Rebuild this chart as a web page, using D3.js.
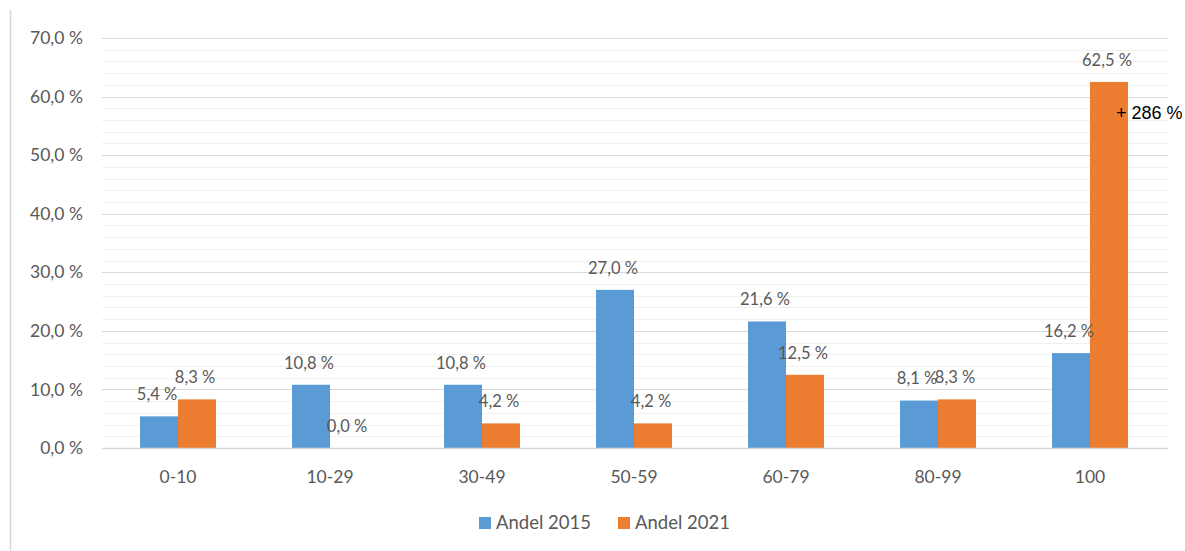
<!DOCTYPE html>
<html>
<head>
<meta charset="utf-8">
<script src="https://cdn.jsdelivr.net/npm/d3@7"></script>
<style>
  body { margin: 0; background: #fff; }
  svg { display: block; font-family: Lato, "Open Sans", sans-serif; }
</style>
</head>
<body>
<svg id="chart" width="1185" height="551"></svg>
<script>
var width = 1185, height = 551;

var categories = ['0-10', '10-29', '30-49', '50-59', '60-79', '80-99', '100'];
var series = ['Andel 2015', 'Andel 2021'];
var andel2015 = [5.4, 10.8, 10.8, 27.0, 21.6, 8.1, 16.2];
var andel2021 = [8.3, 0.0, 4.2, 4.2, 12.5, 8.3, 62.5];
var yTicks = [0, 10, 20, 30, 40, 50, 60, 70];
var annotation = '+ 286 %';

var colors = ['#5b9bd5', '#ed7d31'];
var textColor = '#595959';

var fmt = function(v) { return v.toFixed(1).replace('.', ',') + ' %'; };

var svg = d3.select('#chart');

// chart border on the left
svg.append('line')
  .attr('x1', 10.5).attr('x2', 10.5)
  .attr('y1', 10).attr('y2', height)
  .attr('stroke', '#d9d9d9').attr('stroke-width', 1.5);

var x = d3.scaleBand()
  .domain(categories)
  .range([102, 1166])
  .paddingInner(0.5)
  .paddingOuter(0.25);

var xs = d3.scaleBand()
  .domain(series)
  .range([0, x.bandwidth()]);

var y = d3.scaleLinear()
  .domain([0, 70])
  .range([448, 38]);

// minor gridlines every 2 %
svg.append('g')
  .selectAll('line')
  .data(d3.range(2, 70, 2).filter(function(d) { return d % 10 !== 0; }))
  .enter().append('line')
  .attr('x1', 102).attr('x2', 1168)
  .attr('y1', function(d) { return Math.round(y(d)) + 0.5; })
  .attr('y2', function(d) { return Math.round(y(d)) + 0.5; })
  .attr('stroke', '#f0f0f0');

// major gridlines
svg.append('g')
  .selectAll('line')
  .data(yTicks.slice(1))
  .enter().append('line')
  .attr('x1', 102).attr('x2', 1168)
  .attr('y1', function(d) { return Math.round(y(d)) + 0.5; })
  .attr('y2', function(d) { return Math.round(y(d)) + 0.5; })
  .attr('stroke', '#d9d9d9');

// y axis labels
svg.append('g')
  .selectAll('text')
  .data(yTicks)
  .enter().append('text')
  .attr('x', 83)
  .attr('y', function(d) { return y(d); })
  .attr('dy', '0.35em')
  .attr('text-anchor', 'end')
  .attr('font-size', 17.5)
  .attr('fill', textColor)
  .text(fmt);

var rows = categories.map(function(c, i) {
  return {cat: c, values: [andel2015[i], andel2021[i]]};
});

var groups = svg.append('g')
  .selectAll('g')
  .data(rows)
  .enter().append('g')
  .attr('transform', function(d) { return 'translate(' + x(d.cat) + ',0)'; });

groups.selectAll('rect')
  .data(function(d) { return d.values.map(function(v, j) { return {v: v, s: series[j], j: j}; }); })
  .enter().append('rect')
  .attr('x', function(d) { return xs(d.s); })
  .attr('width', xs.bandwidth())
  .attr('y', function(d) { return y(d.v); })
  .attr('height', function(d) { return y(0) - y(d.v); })
  .attr('fill', function(d) { return colors[d.j]; });

// baseline
svg.append('line')
  .attr('x1', 102).attr('x2', 1168)
  .attr('y1', 448.5).attr('y2', 448.5)
  .attr('stroke', '#d9d9d9').attr('stroke-width', 1.5);

// data labels
groups.selectAll('text.lbl')
  .data(function(d) { return d.values.map(function(v, j) { return {v: v, s: series[j]}; }); })
  .enter().append('text')
  .attr('class', 'lbl')
  .attr('x', function(d) { return xs(d.s) + xs.bandwidth() / 2 - 2; })
  .attr('y', function(d) { return y(d.v) - 22; })
  .attr('dy', '0.35em')
  .attr('text-anchor', 'middle')
  .attr('font-size', 16.5)
  .attr('fill', textColor)
  .text(function(d) { return fmt(d.v); });

// category labels
svg.append('g')
  .selectAll('text')
  .data(categories)
  .enter().append('text')
  .attr('x', function(d) { return x(d) + x.bandwidth() / 2; })
  .attr('y', 477)
  .attr('dy', '0.35em')
  .attr('text-anchor', 'middle')
  .attr('font-size', 17.5)
  .attr('fill', textColor)
  .text(function(d) { return d; });

// annotation next to the last orange bar
svg.append('text')
  .attr('x', x('100') + xs('Andel 2021') + xs.bandwidth() - 12)
  .attr('y', 113)
  .attr('dy', '0.35em')
  .attr('font-family', '"Liberation Sans", Arial, sans-serif')
  .attr('font-size', 18)
  .attr('fill', '#000')
  .text(annotation);

// legend
var legendX = [479, 618];
var legend = svg.append('g')
  .selectAll('g')
  .data(series)
  .enter().append('g')
  .attr('transform', function(d, i) { return 'translate(' + legendX[i] + ',523)'; });

legend.append('rect')
  .attr('x', 0).attr('y', -6)
  .attr('width', 12).attr('height', 12)
  .attr('fill', function(d, i) { return colors[i]; });

legend.append('text')
  .attr('x', 17)
  .attr('dy', '0.35em')
  .attr('font-size', 18.5)
  .attr('fill', textColor)
  .text(function(d) { return d; });
</script>
</body>
</html>
